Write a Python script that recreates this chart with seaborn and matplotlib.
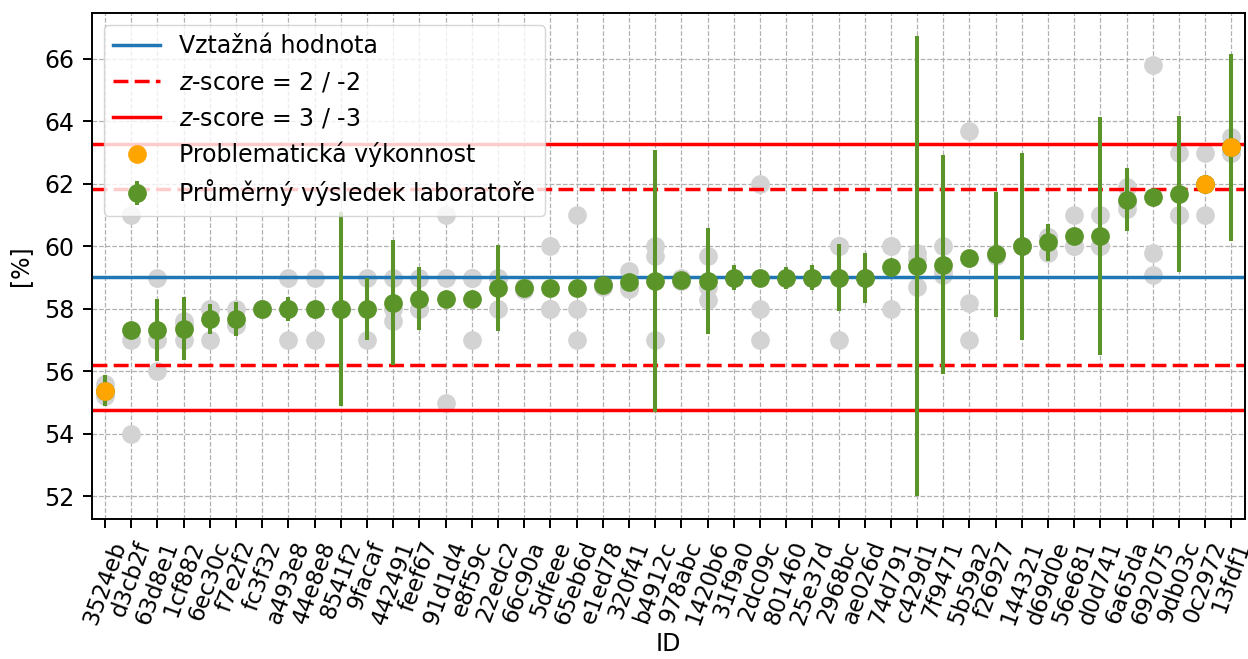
import matplotlib
matplotlib.use("Agg")
import matplotlib.pyplot as plt
from matplotlib.lines import Line2D
import numpy as np
import pandas as pd
import seaborn as sns

# lab codes, in plotting order
lab_ids = ["3524eb", "d3cb2f", "63d8e1", "1cf882", "6ec30c", "f7e2f2", "fc3f32",
           "a493e8", "44e8e8", "8541f2", "9facaf", "442491", "feef67", "91d1d4",
           "e8f59c", "22edc2", "66c90a", "5dfeee", "65eb6d", "e1ed78", "320f41",
           "b4912c", "978abc", "1420b6", "31f9a0", "2dc09c", "801460", "25e37d",
           "2968bc", "ae026d", "74d791", "c429d1", "7f9471", "5b59a2", "f26927",
           "144321", "d69d0e", "56e681", "d0d741", "6a65da", "692075", "9db03c",
           "0c2972", "13fdf1"]

# mean result of each lab [%]
lab_means = [55.38, 57.33, 57.33, 57.37, 57.67, 57.67, 58.0, 58.0, 58.0, 58.0, 58.0,
             58.19, 58.33, 58.33, 58.33, 58.67, 58.67, 58.67, 58.67, 58.75, 58.86,
             58.9, 58.93, 58.9, 59.0, 59.0, 59.0, 59.0, 59.0, 59.0, 59.33, 59.37,
             59.42, 59.64, 59.75, 60.0, 60.13, 60.33, 60.33, 61.5, 61.57, 61.67,
             62.0, 63.17]

# reported uncertainty of each lab
lab_errors = [0.5, 0, 1.0, 1.0, 0.48, 0.55, 0, 0.39, 0, 3.1, 1.0, 2.0, 1.0, 0, 0,
              1.39, 0, 0, 0, 0, 0, 4.19, 0, 1.7, 0.39, 0, 0.35, 0.39, 1.08, 0.8, 0,
              7.36, 3.5, 0, 2.0, 3.0, 0.6, 0, 3.8, 1.0, 0, 2.5, 0, 3.0]

# individual results of each lab
lab_results = [
    [55.2, 55.4, 55.6], [61.0, 57.0, 54.0], [59.0, 57.0, 56.0], [57.6, 57.5, 57.0],
    [58.0, 58.0, 57.0], [58.0, 57.5, 57.5], [58.0, 58.0, 58.0], [59.0, 58.0, 57.0],
    [59.0, 58.0, 57.0], [58.0, 58.0, 58.0], [59.0, 58.0, 57.0], [59.0, 58.0, 57.6],
    [59.0, 58.0, 58.0], [61.0, 59.0, 55.0], [59.0, 59.0, 57.0], [59.0, 59.0, 58.0],
    [58.6, 58.7, 58.7], [60.0, 58.0, 58.0], [61.0, 58.0, 57.0], [58.7, 58.8, 58.75],
    [59.2, 58.7, 58.65], [60.0, 59.7, 57.0], [59.0, 58.9, 58.9], [59.7, 58.7, 58.3],
    [59.0, 59.0, 59.0], [62.0, 58.0, 57.0], [59.0, 59.0, 59.0], [59.0, 59.0, 59.0],
    [60.0, 60.0, 57.0], [59.0, 59.0, 59.0], [60.0, 60.0, 58.0], [59.8, 59.6, 58.7],
    [60.0, 59.2, 59.1], [63.7, 58.2, 57.0], [59.8, 59.75, 59.7], [60.0, 60.0, 60.0],
    [60.3, 60.3, 59.8], [61.0, 60.0, 60.0], [61.0, 60.0, 60.0], [61.9, 61.4, 61.2],
    [65.8, 59.8, 59.1], [63.0, 61.0, 61.0], [63.0, 62.0, 61.0], [63.5, 63.0, 63.0],
]

ref_value = 59.02
ref_sigma = 1.415

green = "#5b9428"
fs = 17

plt.rcParams["font.family"] = ["DejaVu Sans"]
plt.rcParams["font.size"] = fs

# long table of the single results
rows = []
for lab, vals in zip(lab_ids, lab_results):
    for v in vals:
        rows.append({"ID": lab, "value": v})
results_df = pd.DataFrame(rows)

means_df = pd.DataFrame({"ID": lab_ids, "mean": lab_means, "err": lab_errors})
means_df["z"] = (means_df["mean"] - ref_value) / ref_sigma
problem_df = means_df[means_df["z"].abs() >= 2]

fig, ax = plt.subplots(figsize=(12.48, 6.59), dpi=100)
fig.subplots_adjust(left=0.0737, right=0.9972, top=0.98, bottom=0.2124)

lw = 2.5
h_ref = ax.axhline(ref_value, color="tab:blue", lw=lw)
h_z2 = ax.axhline(ref_value + 2 * ref_sigma, color="red", lw=lw, ls="--", dashes=(4.3, 1.8))
ax.axhline(ref_value - 2 * ref_sigma, color="red", lw=lw, ls="--", dashes=(4.3, 1.8))
h_z3 = ax.axhline(ref_value + 3 * ref_sigma, color="red", lw=lw)
ax.axhline(ref_value - 3 * ref_sigma, color="red", lw=lw)

# single results in grey
sns.stripplot(data=results_df, x="ID", y="value", order=lab_ids, jitter=False,
              color="lightgrey", size=13.5, linewidth=0, ax=ax, zorder=1)

# lab means with their uncertainty
x_pos = np.arange(len(lab_ids))
h_mean = ax.errorbar(x_pos, means_df["mean"], yerr=means_df["err"], fmt="o",
                     color=green, ms=13.5, mew=0, elinewidth=2.9, capsize=0, zorder=2)

# problematic labs
sns.stripplot(data=problem_df, x="ID", y="mean", order=lab_ids, jitter=False,
              color="orange", size=13.5, linewidth=0, ax=ax, zorder=3)

ax.set_xlim(-0.5, len(lab_ids) - 0.5)
ax.set_yticks(np.arange(52, 67, 2))
ax.grid(True, ls="--", lw=0.9, color="#b0b0b0")
ax.set_axisbelow(True)
ax.tick_params(axis="both", labelsize=fs, length=6.5, width=1.4, pad=6)
ax.tick_params(axis="x", labelrotation=70, labelsize=16.5, pad=7)
for sp in ax.spines.values():
    sp.set_linewidth(1.4)
ax.set_xlabel("ID", fontsize=fs, labelpad=3)
ax.set_ylabel("[%]", fontsize=fs, labelpad=9)

h_prob = Line2D([], [], marker="o", ls="none", color="orange", ms=13.5, mew=0)
ax.legend([h_ref, h_z2, h_z3, h_prob, h_mean],
          ["Vztažná hodnota", "$z$-score = 2 / -2", "$z$-score = 3 / -3",
           "Problematická výkonnost", "Průměrný výsledek laboratoře"],
          loc="upper left", fontsize=fs)

fig.savefig("out.png", dpi=100)
